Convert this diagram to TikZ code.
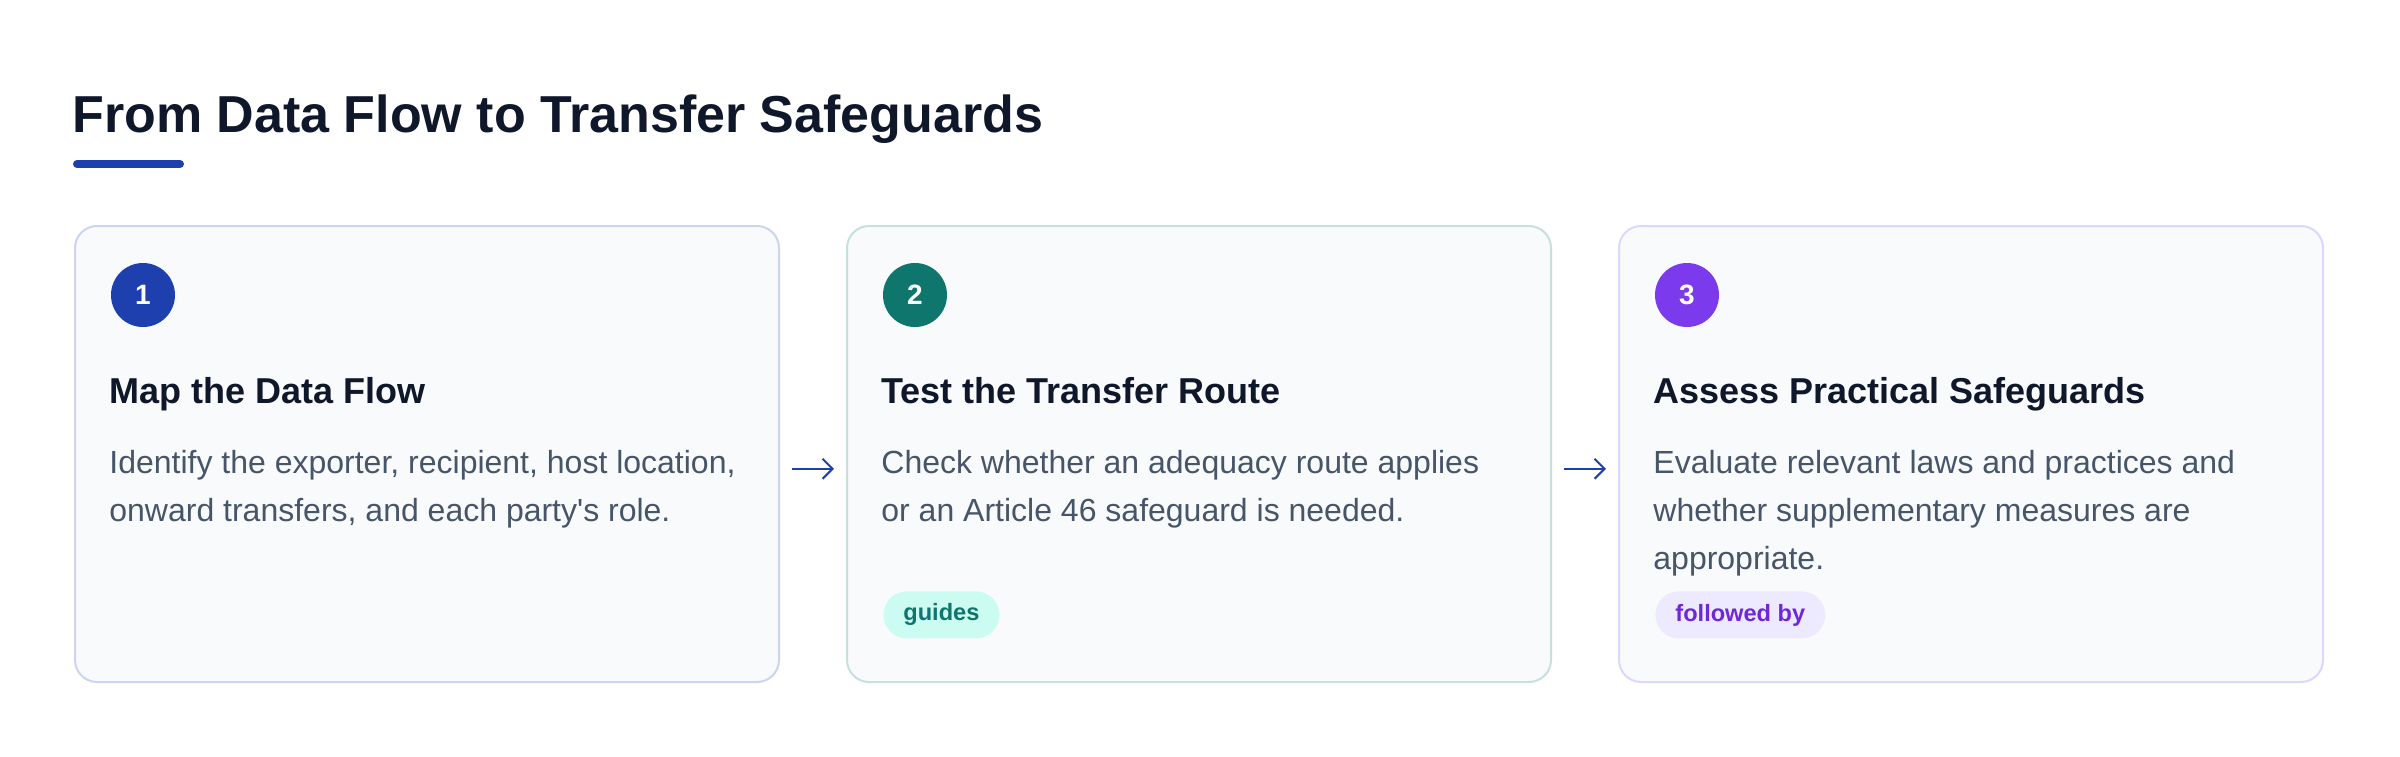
\documentclass[tikz,border=0pt]{standalone}
\usepackage{fontspec}
\setmainfont{Liberation Sans}
\usepackage{tikz}
\usepackage{xcolor}
\usetikzlibrary{calc,arrows.meta}

\definecolor{ink}{HTML}{0F172A}
\definecolor{muted}{HTML}{475569}
\definecolor{paper}{HTML}{F8FAFC}
\definecolor{blueA}{HTML}{1E40AF}
\definecolor{blueB}{HTML}{CBD4F1}
\definecolor{tealA}{HTML}{0F766E}
\definecolor{tealB}{HTML}{C7E0DD}
\definecolor{tealC}{HTML}{CCFBF1}
\definecolor{purpA}{HTML}{7C3AED}
\definecolor{purpB}{HTML}{DDD6FE}
\definecolor{purpC}{HTML}{EDE9FE}
\definecolor{purpD}{HTML}{6D28D9}

\begin{document}
\begin{tikzpicture}[x=1pt,y=1pt]
        \tikzstyle{card}=[draw,fill=paper,line width=1pt,rounded corners=11pt,minimum width=352pt,minimum height=228pt,anchor=north west,inner sep=0pt]
        \tikzstyle{num}=[circle,minimum size=32pt,inner sep=0pt,text=white,font=\fontsize{14}{14}\selectfont\bfseries]
        \tikzstyle{head}=[anchor=base west,inner sep=0pt,text=ink,font=\fontsize{18}{22}\selectfont\bfseries]
        \tikzstyle{body}=[anchor=north west,inner sep=0pt,align=left,text=muted,font=\fontsize{16}{24}\selectfont]
        \tikzstyle{pill}=[anchor=north west,rounded corners=11.75pt,minimum height=23.5pt,inner xsep=10pt,inner ysep=0pt,font=\fontsize{11.8}{12}\selectfont\bfseries]
        \tikzstyle{flow}=[draw=blueA,line width=1pt,-{Straight Barb[length=5pt,width=10pt]},shorten <=6pt,shorten >=6pt]

            \useasboundingbox (0,0) rectangle (1200,-378);

            \node[anchor=base west,inner sep=0pt,text=ink,font=\fontsize{26}{30}\selectfont\bfseries] (T) at (36,-66.4) {From Data Flow to Transfer Safeguards};
            \draw[blueA,line width=4pt,line cap=round] ($(T.base west)+(2.5,-15.6)$) -- ++(51.5,0);

            \node[card,draw=blueB] (C1) at (37,-112.5) {};
            \node[card,draw=tealB] (C2) at ($(C1.north west)+(386,0)$) {};
            \node[card,draw=purpB] (C3) at ($(C2.north west)+(386,0)$) {};

            \node[num,fill=blueA] (N1) at ($(C1.north west)+(34.5,-35)$) {1};
            \node[num,fill=tealA] (N2) at ($(C2.north west)+(34.5,-35)$) {2};
            \node[num,fill=purpA] (N3) at ($(C3.north west)+(34.5,-35)$) {3};

            \node[head] (H1) at ($(C1.north west)+(17.5,-89.3)$) {Map the Data Flow};
            \node[head] (H2) at ($(C2.north west)+(17.5,-89.3)$) {Test the Transfer Route};
            \node[head] (H3) at ($(C3.north west)+(17.5,-89.3)$) {Assess Practical Safeguards};

            \node[body] (B1) at ($(C1.north west)+(17.5,-112.5)$) {Identify the exporter, recipient, host location,\\onward transfers, and each party\textquotesingle s role.};
            \node[body] (B2) at ($(C2.north west)+(17.5,-112.5)$) {Check whether an adequacy route applies\\or an Article 46 safeguard is needed.};
            \node[body] (B3) at ($(C3.north west)+(17.5,-112.5)$) {Evaluate relevant laws and practices and\\whether supplementary measures are\\appropriate.};

            \node[pill,fill=tealC,text=tealA] (P2) at ($(C2.north west)+(18.5,-183)$) {guides};
            \node[pill,fill=purpC,text=purpD] (P3) at ($(C3.north west)+(18.5,-183)$) {followed by};

            \draw[flow] ([yshift=-7.4pt]C1.east) -- ([yshift=-7.4pt]C2.west);
            \draw[flow] ([yshift=-7.4pt]C2.east) -- ([yshift=-7.4pt]C3.west);

        \end{tikzpicture}
\end{document}
